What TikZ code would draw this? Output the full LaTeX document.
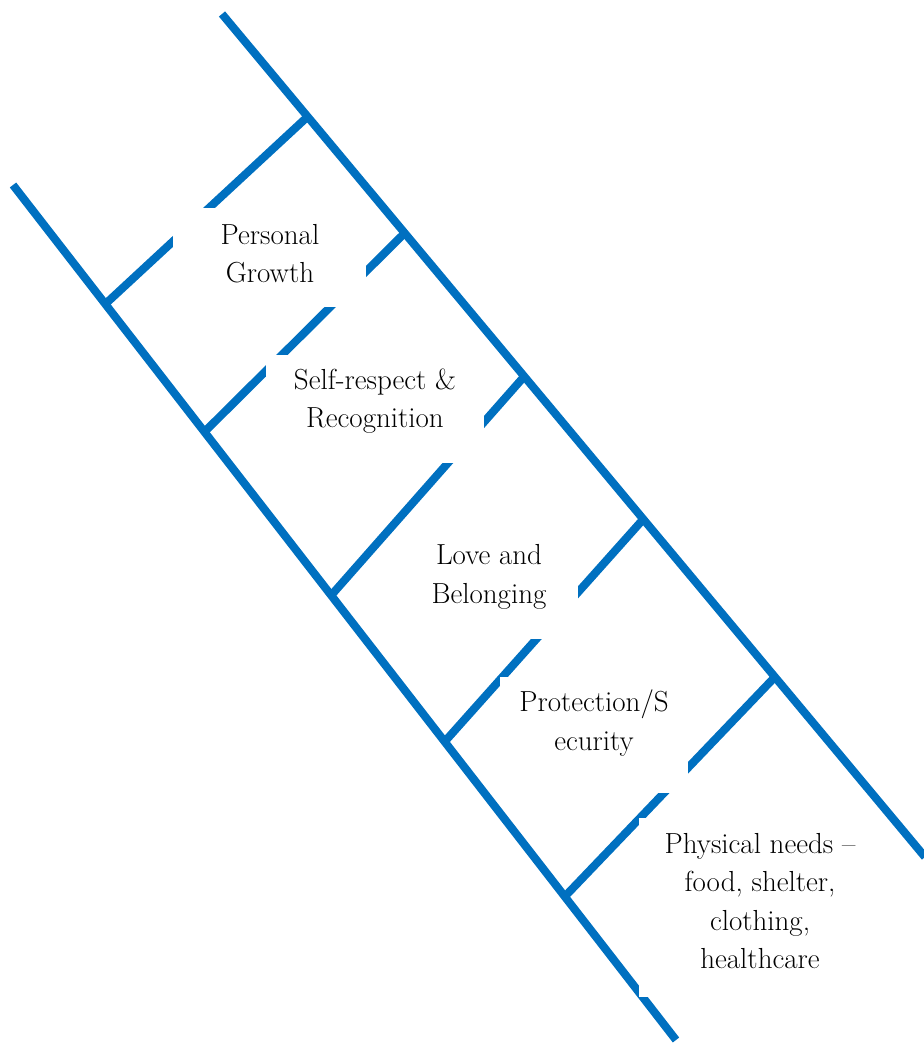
\documentclass[tikz,border=0pt]{standalone}
\usepackage{tikz}
\usetikzlibrary{calc}
\definecolor{LadderBlue}{RGB}{0,112,192}

\begin{document}
\begin{tikzpicture}[x=0.02cm,y=-0.02cm,font=\fontsize{16.5}{21.8}\selectfont,
  rail/.style={line width=4.6pt,draw=LadderBlue},
  blank/.style={fill=white},
  stage/.style={align=center,inner sep=0pt}]
  \useasboundingbox (0,0) rectangle (923,1043);
  \coordinate (lt) at (13,185);
  \coordinate (lb) at (676,1040);
  \coordinate (rt) at (222,14);
  \coordinate (rb) at (925,857);
  \foreach \i/\lx/\ly/\rx/\ry in {1/108/302/306/118, 2/207/430/400/237,
      3/333/594/520/380, 4/447/740/640/522, 5/567/895/775/677} {
    \coordinate (l\i) at ($(lt)!(\lx,\ly)!(lb)$);
    \coordinate (r\i) at ($(rt)!(\rx,\ry)!(rb)$);
  }
  \draw[rail] (lt) -- (lb);
  \draw[rail] (rt) -- (rb);
  \foreach \i in {1,...,5}
    \draw[rail] (l\i) -- (r\i);
  \fill[blank] (173,208) rectangle (366,307);
  \fill[blank] (266,355) rectangle (484,463);
  \fill[blank] (398,531) rectangle (578,639);
  \fill[blank] (500,677) rectangle (688,793);
  \fill[blank] (639,818) rectangle (881,997);
  \node[stage] (growth) at (270,254) {Personal\\Growth};
  \node[stage] (respect) at (375,401) {Self-respect \&\\Recognition};
  \node[stage] (belonging) at (489,577) {Love and\\Belonging};
  \node[stage] (security) at (594,723) {Protection/S\\ecurity};
  \node[stage] (physical) at (760,901)
    {Physical needs --\\food, shelter,\\clothing,\\healthcare};
\end{tikzpicture}
\end{document}
